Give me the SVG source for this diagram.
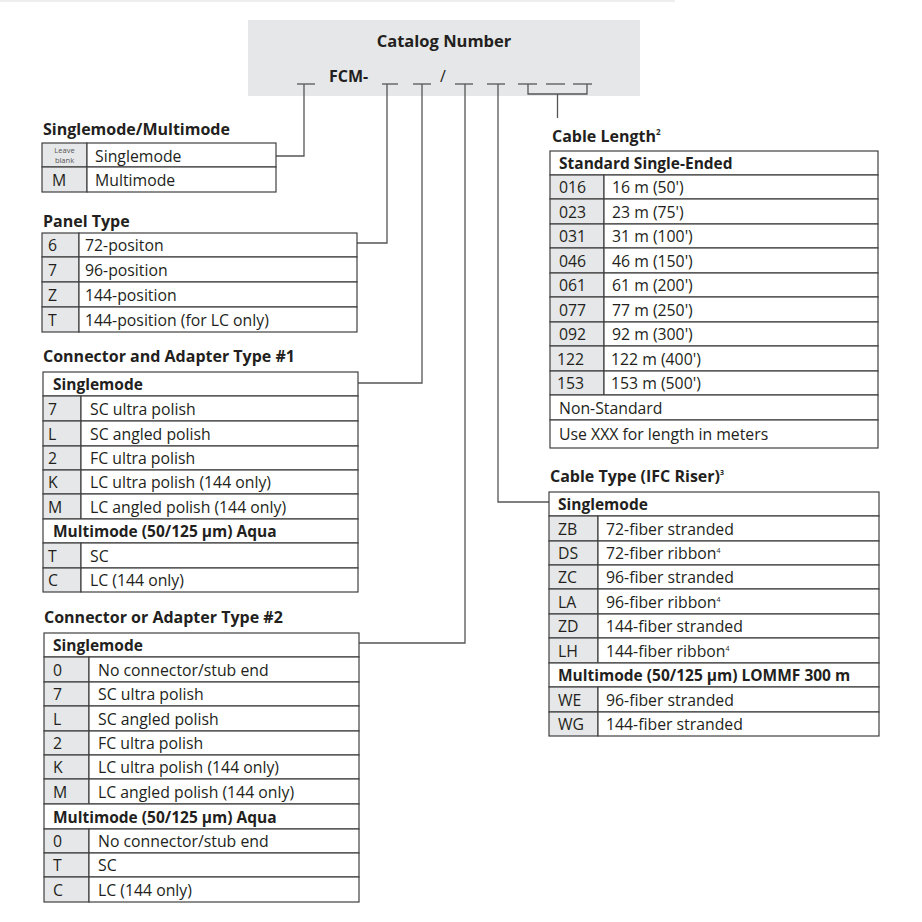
<svg xmlns="http://www.w3.org/2000/svg" width="922" height="922" viewBox="0 0 922 922">
<style>
text{font-family:"Open Sans","Noto Sans","DejaVu Sans",sans-serif;fill:#231f20}
.ti{font-size:16px;font-weight:700}
.hd{font-size:15.5px;font-weight:700}
.tx{font-size:15.8px}
.sm{font-size:7.5px;fill:#555}
.g{fill:#e6e7e8;stroke:#404040;stroke-width:1.2}
.w{fill:#fff;stroke:#404040;stroke-width:1.2}
.cn{fill:none;stroke:#555;stroke-width:1.3}
.us{stroke:#555;stroke-width:1.3}
</style>
<rect width="922" height="922" fill="#fff"/>
<line x1="0" y1="1" x2="675" y2="1" stroke="#eeeeee" stroke-width="2"/>

<g id="header">
<rect x="248" y="20" width="392" height="76" fill="#e6e7e8"/>
<text class="ti" x="444" y="47" text-anchor="middle" style="font-size:16.5px">Catalog Number</text>
<text class="ti" x="329" y="82">FCM-</text>
<text class="ti" x="440" y="82" style="font-weight:400">/</text>
<g class="us">
<line x1="297" y1="84" x2="315" y2="84"/>
<line x1="382" y1="84" x2="398" y2="84"/>
<line x1="413" y1="84" x2="431" y2="84"/>
<line x1="455" y1="84" x2="473" y2="84"/>
<line x1="487" y1="84" x2="505" y2="84"/>
<line x1="518" y1="84" x2="537" y2="84"/>
<line x1="546" y1="84" x2="565" y2="84"/>
<line x1="573" y1="84" x2="592" y2="84"/>
</g>
</g>

<g id="connectors" class="cn">
<path d="M304 84V156H276"/>
<path d="M387 84V243H357"/>
<path d="M422 84V383H358"/>
<path d="M465 84V643H359"/>
<path d="M498 84V502H549"/>
<path d="M528 84V94H587V84M557.5 94V118"/>
</g>

<g id="singlemode-multimode">
<text class="ti" x="43" y="135">Singlemode/Multimode</text>
<rect class="g" x="42" y="143" width="45" height="24"/><rect class="w" x="87" y="143" width="189" height="24"/>
<rect class="g" x="42" y="167" width="45" height="25"/><rect class="w" x="87" y="167" width="189" height="25"/>
<text class="sm" x="64.5" y="152.5" text-anchor="middle">Leave</text>
<text class="sm" x="64.5" y="162.5" text-anchor="middle">blank</text>
<text class="tx" x="95" y="162">Singlemode</text>
<text class="tx" x="52" y="186">M</text><text class="tx" x="95" y="186">Multimode</text>
</g>

<g id="panel-type">
<text class="ti" x="43" y="227">Panel Type</text>
<rect class="g" x="42" y="233" width="37" height="24"/><rect class="w" x="79" y="233" width="278" height="24"/>
<rect class="g" x="42" y="257" width="37" height="25"/><rect class="w" x="79" y="257" width="278" height="25"/>
<rect class="g" x="42" y="282" width="37" height="25"/><rect class="w" x="79" y="282" width="278" height="25"/>
<rect class="g" x="42" y="307" width="37" height="25"/><rect class="w" x="79" y="307" width="278" height="25"/>
<text class="tx" x="48" y="251">6</text><text class="tx" x="85" y="251">72-positon</text>
<text class="tx" x="48" y="276">7</text><text class="tx" x="85" y="276">96-position</text>
<text class="tx" x="48" y="301">Z</text><text class="tx" x="85" y="301">144-position</text>
<text class="tx" x="48" y="326">T</text><text class="tx" x="85" y="326">144-position (for LC only)</text>
</g>

<g id="connector-type-1">
<text class="ti" x="43" y="362">Connector and Adapter Type #1</text>
<rect class="w" x="43" y="372" width="315" height="24"/>
<rect class="g" x="43" y="396" width="38" height="25"/><rect class="w" x="81" y="396" width="277" height="25"/>
<rect class="g" x="43" y="421" width="38" height="25"/><rect class="w" x="81" y="421" width="277" height="25"/>
<rect class="g" x="43" y="446" width="38" height="24"/><rect class="w" x="81" y="446" width="277" height="24"/>
<rect class="g" x="43" y="470" width="38" height="24"/><rect class="w" x="81" y="470" width="277" height="24"/>
<rect class="g" x="43" y="494" width="38" height="25"/><rect class="w" x="81" y="494" width="277" height="25"/>
<rect class="w" x="43" y="519" width="315" height="24"/>
<rect class="g" x="43" y="543" width="38" height="25"/><rect class="w" x="81" y="543" width="277" height="25"/>
<rect class="g" x="43" y="568" width="38" height="24"/><rect class="w" x="81" y="568" width="277" height="24"/>
<text class="hd" x="53" y="390">Singlemode</text>
<text class="tx" x="48" y="415">7</text><text class="tx" x="90" y="415">SC ultra polish</text>
<text class="tx" x="48" y="440">L</text><text class="tx" x="90" y="440">SC angled polish</text>
<text class="tx" x="48" y="464">2</text><text class="tx" x="90" y="464">FC ultra polish</text>
<text class="tx" x="48" y="488">K</text><text class="tx" x="90" y="488">LC ultra polish (144 only)</text>
<text class="tx" x="48" y="513">M</text><text class="tx" x="90" y="513">LC angled polish (144 only)</text>
<text class="hd" x="53" y="537">Multimode (50/125 µm) Aqua</text>
<text class="tx" x="48" y="562">T</text><text class="tx" x="90" y="562">SC</text>
<text class="tx" x="48" y="586">C</text><text class="tx" x="90" y="586">LC (144 only)</text>
</g>

<g id="connector-type-2">
<text class="ti" x="44" y="623">Connector or Adapter Type #2</text>
<rect class="w" x="44" y="633" width="315" height="24"/>
<rect class="g" x="44" y="657" width="45" height="25"/><rect class="w" x="89" y="657" width="270" height="25"/>
<rect class="g" x="44" y="682" width="45" height="24"/><rect class="w" x="89" y="682" width="270" height="24"/>
<rect class="g" x="44" y="706" width="45" height="25"/><rect class="w" x="89" y="706" width="270" height="25"/>
<rect class="g" x="44" y="731" width="45" height="24"/><rect class="w" x="89" y="731" width="270" height="24"/>
<rect class="g" x="44" y="755" width="45" height="24"/><rect class="w" x="89" y="755" width="270" height="24"/>
<rect class="g" x="44" y="779" width="45" height="25"/><rect class="w" x="89" y="779" width="270" height="25"/>
<rect class="w" x="44" y="804" width="315" height="25"/>
<rect class="g" x="44" y="829" width="45" height="24"/><rect class="w" x="89" y="829" width="270" height="24"/>
<rect class="g" x="44" y="853" width="45" height="24"/><rect class="w" x="89" y="853" width="270" height="24"/>
<rect class="g" x="44" y="877" width="45" height="25"/><rect class="w" x="89" y="877" width="270" height="25"/>
<text class="hd" x="53" y="651">Singlemode</text>
<text class="tx" x="53" y="676">0</text><text class="tx" x="98" y="676">No connector/stub end</text>
<text class="tx" x="53" y="700">7</text><text class="tx" x="98" y="700">SC ultra polish</text>
<text class="tx" x="53" y="725">L</text><text class="tx" x="98" y="725">SC angled polish</text>
<text class="tx" x="53" y="749">2</text><text class="tx" x="98" y="749">FC ultra polish</text>
<text class="tx" x="53" y="773">K</text><text class="tx" x="98" y="773">LC ultra polish (144 only)</text>
<text class="tx" x="53" y="798">M</text><text class="tx" x="98" y="798">LC angled polish (144 only)</text>
<text class="hd" x="53" y="823">Multimode (50/125 µm) Aqua</text>
<text class="tx" x="53" y="847">0</text><text class="tx" x="98" y="847">No connector/stub end</text>
<text class="tx" x="53" y="871">T</text><text class="tx" x="98" y="871">SC</text>
<text class="tx" x="53" y="896">C</text><text class="tx" x="98" y="896">LC (144 only)</text>
</g>

<g id="cable-length">
<text class="ti" x="552" y="142">Cable Length<tspan style="font-size:8px" dy="-7">2</tspan></text>
<rect class="w" x="550" y="151" width="328" height="24"/>
<rect class="g" x="550" y="175" width="54" height="24"/><rect class="w" x="604" y="175" width="274" height="24"/>
<rect class="g" x="550" y="199" width="54" height="25"/><rect class="w" x="604" y="199" width="274" height="25"/>
<rect class="g" x="550" y="224" width="54" height="24"/><rect class="w" x="604" y="224" width="274" height="24"/>
<rect class="g" x="550" y="248" width="54" height="25"/><rect class="w" x="604" y="248" width="274" height="25"/>
<rect class="g" x="550" y="273" width="54" height="24"/><rect class="w" x="604" y="273" width="274" height="24"/>
<rect class="g" x="550" y="297" width="54" height="25"/><rect class="w" x="604" y="297" width="274" height="25"/>
<rect class="g" x="550" y="322" width="54" height="24"/><rect class="w" x="604" y="322" width="274" height="24"/>
<rect class="g" x="550" y="346" width="54" height="25"/><rect class="w" x="604" y="346" width="274" height="25"/>
<rect class="g" x="550" y="371" width="54" height="24"/><rect class="w" x="604" y="371" width="274" height="24"/>
<rect class="w" x="550" y="395" width="328" height="25"/>
<rect class="w" x="550" y="420" width="328" height="28"/>
<text class="hd" x="559" y="169">Standard Single-Ended</text>
<text class="tx" x="559" y="193">016</text><text class="tx" x="612" y="193">16 m (50')</text>
<text class="tx" x="559" y="218">023</text><text class="tx" x="612" y="218">23 m (75')</text>
<text class="tx" x="559" y="242">031</text><text class="tx" x="612" y="242">31 m (100')</text>
<text class="tx" x="559" y="267">046</text><text class="tx" x="612" y="267">46 m (150')</text>
<text class="tx" x="559" y="291">061</text><text class="tx" x="612" y="291">61 m (200')</text>
<text class="tx" x="559" y="316">077</text><text class="tx" x="612" y="316">77 m (250')</text>
<text class="tx" x="559" y="340">092</text><text class="tx" x="612" y="340">92 m (300')</text>
<text class="tx" x="557" y="365">122</text><text class="tx" x="611" y="365">122 m (400')</text>
<text class="tx" x="557" y="389">153</text><text class="tx" x="611" y="389">153 m (500')</text>
<text class="tx" x="559" y="414">Non-Standard</text>
<text class="tx" x="559" y="440">Use XXX for length in meters</text>
</g>

<g id="cable-type">
<text class="ti" x="550" y="482">Cable Type (IFC Riser)<tspan style="font-size:7px" dy="-7">3</tspan></text>
<rect class="w" x="549" y="492" width="330" height="24"/>
<rect class="g" x="549" y="516" width="49" height="25"/><rect class="w" x="598" y="516" width="281" height="25"/>
<rect class="g" x="549" y="541" width="49" height="24"/><rect class="w" x="598" y="541" width="281" height="24"/>
<rect class="g" x="549" y="565" width="49" height="24"/><rect class="w" x="598" y="565" width="281" height="24"/>
<rect class="g" x="549" y="589" width="49" height="25"/><rect class="w" x="598" y="589" width="281" height="25"/>
<rect class="g" x="549" y="614" width="49" height="24"/><rect class="w" x="598" y="614" width="281" height="24"/>
<rect class="g" x="549" y="638" width="49" height="25"/><rect class="w" x="598" y="638" width="281" height="25"/>
<rect class="w" x="549" y="663" width="330" height="24"/>
<rect class="g" x="549" y="687" width="49" height="25"/><rect class="w" x="598" y="687" width="281" height="25"/>
<rect class="g" x="549" y="712" width="49" height="24"/><rect class="w" x="598" y="712" width="281" height="24"/>
<text class="hd" x="558" y="510">Singlemode</text>
<text class="tx" x="558" y="535">ZB</text><text class="tx" x="606" y="535">72-fiber stranded</text>
<text class="tx" x="558" y="559">DS</text><text class="tx" x="606" y="559">72-fiber ribbon<tspan style="font-size:7px" dy="-6">4</tspan></text>
<text class="tx" x="558" y="583">ZC</text><text class="tx" x="606" y="583">96-fiber stranded</text>
<text class="tx" x="558" y="608">LA</text><text class="tx" x="606" y="608">96-fiber ribbon<tspan style="font-size:7px" dy="-6">4</tspan></text>
<text class="tx" x="558" y="632">ZD</text><text class="tx" x="606" y="632">144-fiber stranded</text>
<text class="tx" x="558" y="657">LH</text><text class="tx" x="606" y="657">144-fiber ribbon<tspan style="font-size:7px" dy="-6">4</tspan></text>
<text class="hd" x="558" y="681">Multimode (50/125 µm) LOMMF 300 m</text>
<text class="tx" x="558" y="706">WE</text><text class="tx" x="606" y="706">96-fiber stranded</text>
<text class="tx" x="558" y="730">WG</text><text class="tx" x="606" y="730">144-fiber stranded</text>
</g>
</svg>
